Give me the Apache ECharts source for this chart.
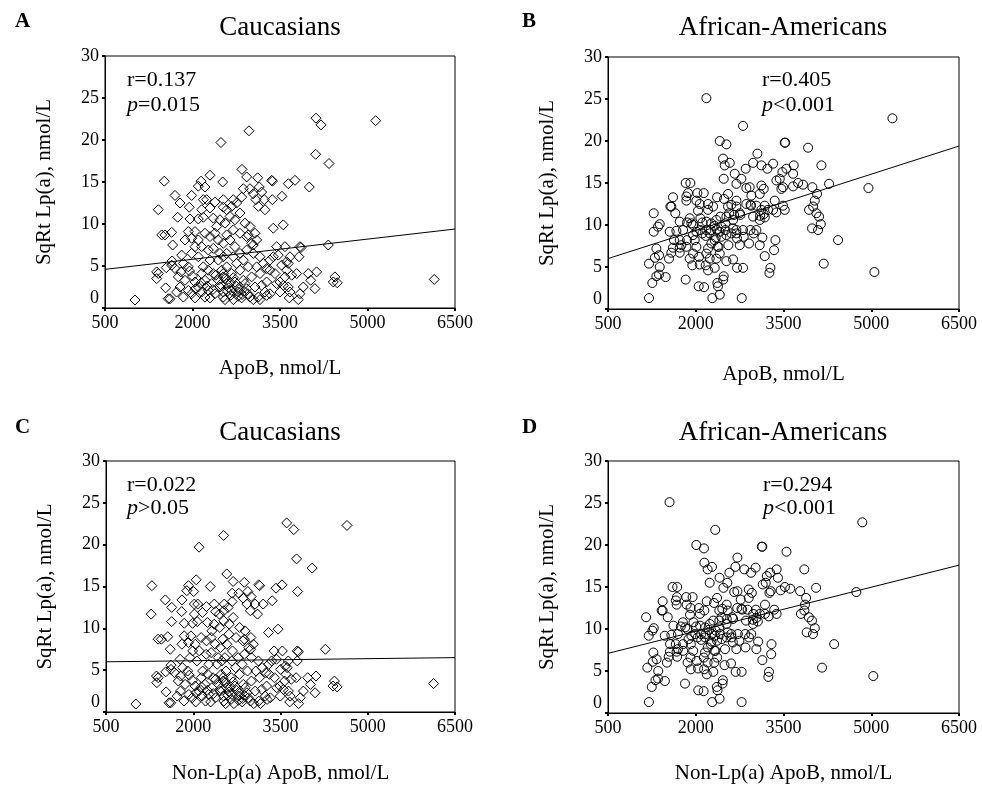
<!DOCTYPE html>
<html>
<head>
<meta charset="utf-8">
<script src="https://cdn.jsdelivr.net/npm/echarts@6/dist/echarts.min.js"></script>
<style>
html,body{margin:0;padding:0;background:#fff;}
#chart{width:982px;height:790px;}
</style>
</head>
<body>
<div id="chart"></div>
<script>
// ---------- data ----------
const xTicks = [500, 2000, 3500, 5000, 6500];
const yTicks = [0, 5, 10, 15, 20, 25, 30];
const panelLetters = ['A', 'B', 'C', 'D'];
const panelTitles = ['Caucasians', 'African-Americans', 'Caucasians', 'African-Americans'];
const xTitles = ['ApoB, nmol/L', 'ApoB, nmol/L', 'Non-Lp(a) ApoB, nmol/L', 'Non-Lp(a) ApoB, nmol/L'];
const yTitle = 'SqRt Lp(a), nmol/L';
const rValues = ['r=0.137', 'r=0.405', 'r=0.022', 'r=0.294'];
const pValues = ['=0.015', '<0.001', '>0.05', '<0.001'];

// regression lines [x, y] endpoints
const fitA = [[500, 4.6], [6500, 9.4]];
const fitB = [[500, 6.0], [6500, 19.4]];
const fitC = [[500, 6.0], [6500, 6.5]];
const fitD = [[500, 7.1], [6500, 17.6]];

// Panel A: Caucasians, ApoB vs SqRt Lp(a)
const pointsA = [
[2488,19.7],[1517,15.1],[2300,15.8],[2146,15.1],[2100,14.5],[2214,14.4],[2517,15.0],[1700,13.4],[1414,11.7],[1786,12.5],[1945,12.0],[1986,13.4],[2185,12.9],[2243,12.9],[2157,11.7],[2300,11.9],[2385,12.6],[2528,12.0],[1746,10.8],[1957,10.6],[2100,10.6],[2185,10.8],[2357,10.7],[2414,9.7],[2471,10.5],[1472,8.7],[1528,8.7],[1643,9.0],[1660,7.5],[1814,6.3],[1928,9.1],[2043,9.1],[1986,8.3],[1871,8.1],[2100,8.1],[2214,8.9],[2300,8.5],[2385,8.9],[2443,8.1],[2528,7.7],
[2043,7.3],[2157,7.3],[2271,6.9],[2357,7.1],[2471,6.5],[1986,6.5],[2100,6.1],[2300,5.7],[2443,5.7],[2528,6.1],
[1386,4.3],[1414,4.1],[1386,3.5],[1540,2.4],[1614,1.1],[1585,1.1],[1014,0.95],
[1643,5.1],[1700,4.7],[1843,5.3],[1928,4.9],[1757,3.7],[1871,3.3],[1786,2.5],[1928,2.1],[1728,1.9],[1843,1.3],[1986,1.7],[2043,1.2],[2100,2.5],[2043,3.1],[2157,4.1],[2185,4.9],[2271,4.5],[2357,4.1],[2214,3.3],[2328,2.9],[2271,2.1],[2157,1.9],[2214,1.3],[2300,1.2],[2385,1.7],[2471,2.5],[2443,3.3],[2528,3.7],[2500,4.5],[2528,1.3],
[2643,8.1],[2728,7.3],[2586,6.5],[2700,6.1],[2814,6.5],[2928,6.9],[3014,7.7],[3100,8.1],[3042,6.5],[3157,6.1],[2871,5.7],[2757,5.3],[2586,4.9],[2528,4.1],[2671,4.1],[2814,4.5],[2957,4.9],[3100,4.9],[3214,5.3],[3328,5.7],[3385,6.1],[3271,4.7],[3157,4.1],[3014,3.7],[2871,3.3],[2728,3.1],[2586,2.9],[2528,1.9],[2671,2.1],[2785,1.9],[2928,2.3],[3071,2.5],[3185,2.7],[3528,5.1],[3614,5.5],[3671,6.1],[3500,3.1],[3271,1.5],[3128,1.3],[2985,1.3],[2843,1.2],[2700,1.0],[2557,1.0],[3557,2.7],[3642,2.5],[3157,1.0],[3042,1.0],
[2600,2.0],[2650,1.5],[2750,2.6],[2800,2.2],[2850,1.6],[2900,2.9],[2700,3.6],[2650,3.0],[2620,2.4],[2780,1.4],[2880,2.0],[2950,1.7],[2560,3.5],[2480,2.8],[2400,3.9],[2350,2.2],[2250,2.6],[2150,3.0],[2050,2.3],[2000,3.8],[1950,4.4],[1800,4.3],[1650,5.6],[1550,4.8],
[2586,11.7],[2643,10.9],[2557,10.1],[2728,10.5],[2814,11.3],[2900,10.1],[2700,9.3],[2814,8.9],[2928,8.5],[2586,8.7],[2843,13.2],[3042,13.6],[3128,12.1],[2528,12.9],
[4117,22.6],[4203,21.8],[2968,21.1],[4111,18.3],[4340,17.2],[2848,16.5],[2929,15.6],[3117,15.5],[3357,15.2],[3370,15.1],[3642,14.8],[3757,15.2],[4002,14.4],[2871,14.2],[2985,14.2],[3145,14.4],[3186,13.8],[3088,12.9],[3230,12.9],[3368,12.9],[3534,13.3],[2699,12.9],[2757,12.5],[2671,12.1],[3242,11.7],[3385,9.5],[3556,9.9],[2985,9.7],[3071,8.9],[2956,8.7],[3042,7.5],[3443,7.3],[3585,7.3],[3842,7.3],[3860,7.2],[4328,7.5],[3825,6.1],[3471,6.3],[3642,5.3],[3614,4.5],[3700,3.9],[3585,3.7],[3786,4.1],[3328,4.5],[3414,4.1],[3443,2.9],[3271,3.1],[3500,1.9],[3328,1.7],[3242,1.9],[3985,4.1],[4128,4.3],[4026,3.3],[4099,2.3],[3899,2.5],[3842,1.7],[3671,1.9],[3659,1.2],[3813,1.0],[4442,3.7],[4482,3.0],[4413,3.1],[5140,22.3],[6144,3.4]
];

// Panel B: African-Americans, ApoB vs SqRt Lp(a)
const pointsB = [
[2182,25.1],[2808,21.8],[5362,22.7],[2410,20.0],[2524,19.6],[3521,19.8],[3530,19.8],[3920,19.2],[3054,18.5],[2467,17.9],[2581,17.4],[2495,17.1],[2980,17.4],[3122,17.1],[3322,17.3],[3225,16.7],[2854,16.7],[2666,16.1],[3481,16.3],[3550,16.7],[3675,17.1],[4148,17.1],[3664,16.1],[3436,15.5],[2780,15.5],[2478,15.5],[2695,14.9],[2922,14.5],[3122,14.7],[3162,14.3],[3492,14.5],[3749,15.0],[3664,14.6],[3834,14.8],[3994,14.5],[4279,14.9],[4952,14.4],[4074,13.7],[4034,12.9],[4006,12.2],[3937,11.8],[4063,11.4],[4108,11.0],[4137,10.1],[3988,9.6],[4091,9.4],[4433,8.2],[4188,5.4],[5054,4.4],
[2951,13.5],[3094,13.7],[2936,12.4],[2945,12.3],[3350,12.9],[3322,11.8],[3379,11.5],[3492,12.3],[3521,11.8],[3179,12.3],[3122,11.8],[3236,11.8],[3094,10.6],[3100,11.1],[2752,11.4],[2695,12.2],[2552,12.2],[2695,12.9],[2552,13.7],[2484,13.1],[2364,13.3],[2296,12.2],[2210,12.5],[2210,11.8],[2068,12.5],[2028,13.8],[2136,13.8],[2011,12.9],[1868,13.8],[1840,13.4],[1908,15.0],[1828,15.0],[1611,13.3],[1566,12.2],[1651,11.4],[1726,10.4],[1897,10.8],[1925,10.2],[1840,12.9],[2039,11.7],[2079,10.8],[2113,10.3],[2182,10.4],[2267,10.2],[2324,9.9],[2256,9.4],[2364,9.4],[2438,9.8],[2507,10.2],[2524,11.0],[2570,11.4],[2638,10.6],[2638,9.6],[2695,9.4],[2763,11.2],[2808,9.4],[2820,8.6],[2934,9.4],[3037,9.4],[3139,8.5],[3094,7.6],[3179,6.3],[3339,7.0],[3362,8.2],[3276,4.9],[3259,4.3],[2911,7.8],[2752,7.6],[2706,8.4],[2558,7.6],[2524,5.7],[2638,5.9],[2706,4.9],[2808,4.9],[2786,1.3],[2410,9.2],[2341,8.5],[2375,7.4],[2390,7.4],[2267,7.8],[2210,7.2],[2170,8.7],[2182,6.6],[2239,6.0],[2353,6.0],[2324,4.9],[2210,4.6],[2170,5.2],[2068,5.3],[2056,6.2],[2011,7.4],[1982,8.2],[1954,6.6],[1942,5.2],[1897,6.0],[1954,8.8],[1840,7.4],[1851,8.2],[1754,7.6],[1726,6.7],[1669,9.3],[1726,8.2],[1828,3.5],[2050,2.7],[2142,2.6],[2284,1.3],[2410,1.7],[2370,3.1],[2380,2.7],[2478,3.9],[2470,3.5],[2410,6.6],[2438,8.6],
[1201,1.3],[1258,3.1],[1201,5.4],[1281,9.2],[1281,11.4],[1384,10.1],[1355,9.8],[1327,7.2],[1301,6.1],[1372,6.4],[1384,5.0],[1372,4.1],[1327,3.9],[1486,3.8],[1543,6.0],[1555,9.2],[1583,12.2],[1611,7.3],[1628,8.2],[1583,6.7],[1726,7.3],
[2324,8.2],[2524,8.8],[2609,9.0],[2507,9.4],[2353,10.6],[2421,11.0],[2609,12.4],[2655,11.2],[2695,9.0],[2865,12.5],[2980,11.0],[2991,9.0],[3162,11.3],[3180,10.9],[3037,12.3],[3379,15.3],[3464,14.3],[2865,14.4],[1954,10.0],[2011,9.2],[2079,9.4],[2113,9.0],[2182,9.4],[2239,9.0],[1783,9.4],[1851,10.3]
];

// Panel C: Caucasians, Non-Lp(a) ApoB vs SqRt Lp(a)
const pointsC = [
[2100,19.7],[1289,15.1],[2050,15.8],[1918,15.1],[1890,14.5],[2007,14.4],[2292,15.0],[1520,13.4],[1277,11.7],[1630,12.5],[1801,12.0],[1806,13.4],[2019,12.9],[2077,12.9],[2020,11.7],[2158,11.9],[2226,12.6],[2384,12.0],[1629,10.8],[1845,10.6],[1988,10.6],[2068,10.8],[2243,10.7],[2320,9.7],[2361,10.5],[1396,8.7],[1452,8.7],[1562,9.0],[1604,7.5],[1774,6.3],[1845,9.1],[1960,9.1],[1917,8.3],[1805,8.1],[2034,8.1],[2135,8.9],[2228,8.5],[2306,8.9],[2377,8.1],[2469,7.7],
[1990,7.3],[2104,7.3],[2223,6.9],[2307,7.1],[2429,6.5],[1944,6.5],[2063,6.1],[2268,5.7],[2411,5.7],[2491,6.1],
[1368,4.3],[1397,4.1],[1374,3.5],[1534,2.4],[1613,1.1],[1584,1.1],[1013,0.95],
[1617,5.1],[1678,4.7],[1815,5.3],[1904,4.9],[1743,3.7],[1860,3.3],[1780,2.5],[1924,2.1],[1724,1.9],[1841,1.3],[1983,1.7],[2042,1.2],[2094,2.5],[2033,3.1],[2140,4.1],[2161,4.9],[2251,4.5],[2340,4.1],[2203,3.3],[2320,2.9],[2267,2.1],[2153,1.9],[2212,1.3],[2299,1.2],[2382,1.7],[2465,2.5],[2432,3.3],[2514,3.7],[2480,4.5],[2526,1.3],
[2577,8.1],[2675,7.3],[2544,6.5],[2663,6.1],[2772,6.5],[2880,6.9],[2955,7.7],[3034,8.1],[3000,6.5],[3120,6.1],[2839,5.7],[2729,5.3],[2562,4.9],[2511,4.1],[2654,4.1],[2794,4.5],[2933,4.9],[3076,4.9],[3186,5.3],[3296,5.7],[3348,6.1],[3249,4.7],[3140,4.1],[3000,3.7],[2860,3.3],[2718,3.1],[2578,2.9],[2524,1.9],[2667,2.1],[2781,1.9],[2923,2.3],[3065,2.5],[3178,2.7],[3502,5.1],[3584,5.5],[3634,6.1],[3490,3.1],[3269,1.5],[3126,1.3],[2983,1.3],[2842,1.2],[2699,1.0],[2556,1.0],[3550,2.7],[3636,2.5],[3156,1.0],[3041,1.0],
[2596,2.0],[2648,1.5],[2743,2.6],[2795,2.2],[2847,1.6],[2892,2.9],[2687,3.6],[2641,3.0],[2614,2.4],[2778,1.4],[2876,2.0],[2947,1.7],[2548,3.5],[2472,2.8],[2385,3.9],[2345,2.2],[2243,2.6],[2141,3.0],[2045,2.3],[1986,3.8],[1931,4.4],[1782,4.3],[1619,5.6],[1527,4.8],
[2449,11.7],[2524,10.9],[2455,10.1],[2618,10.5],[2686,11.3],[2798,10.1],[2614,9.3],[2735,8.9],[2856,8.5],[2510,8.7],[2669,13.2],[2857,13.6],[2982,12.1],[2362,12.9],
[3606,22.6],[3728,21.8],[2523,21.1],[3776,18.3],[4044,17.2],[2576,16.5],[2686,15.6],[2877,15.5],[3126,15.2],[3142,15.1],[3423,14.8],[3526,15.2],[3795,14.4],[2669,14.2],[2783,14.2],[2938,14.4],[2996,13.8],[2922,12.9],[3064,12.9],[3202,12.9],[3357,13.3],[2533,12.9],[2601,12.5],[2525,12.1],[3105,11.7],[3295,9.5],[3458,9.9],[2891,9.7],[2992,8.9],[2880,8.7],[2986,7.5],[3390,7.3],[3532,7.3],[3789,7.3],[3808,7.2],[4272,7.5],[3788,6.1],[3431,6.3],[3614,5.3],[3594,4.5],[3685,3.9],[3571,3.7],[3769,4.1],[3308,4.5],[3397,4.1],[3435,2.9],[3261,3.1],[3496,1.9],[3325,1.7],[3238,1.9],[3968,4.1],[4110,4.3],[4015,3.3],[4094,2.3],[3893,2.5],[3839,1.7],[3667,1.9],[3658,1.2],[3812,1.0],[4428,3.7],[4473,3.0],[4403,3.1],[4643,22.3],[6132,3.4]
];

// Panel D: African-Americans, Non-Lp(a) ApoB vs SqRt Lp(a)
const pointsD = [
[1552,25.1],[2333,21.8],[4847,22.7],[2010,20.0],[2140,19.6],[3129,19.8],[3138,19.8],[3551,19.2],[2712,18.5],[2147,17.9],[2278,17.4],[2203,17.1],[2677,17.4],[2830,17.1],[3023,17.3],[2946,16.7],[2575,16.7],[2407,16.1],[3215,16.3],[3271,16.7],[3383,17.1],[3856,17.1],[3405,16.1],[3196,15.5],[2540,15.5],[2238,15.5],[2473,14.9],[2712,14.5],[2906,14.7],[2958,14.3],[3282,14.5],[3524,15.0],[3451,14.6],[3615,14.8],[3784,14.5],[4057,14.9],[4745,14.4],[3886,13.7],[3868,12.9],[3857,12.2],[3798,11.8],[3933,11.4],[3987,11.0],[4035,10.1],[3896,9.6],[4003,9.4],[4366,8.2],[4159,5.4],[5035,4.4],
[2769,13.5],[2906,13.7],[2782,12.4],[2794,12.3],[3184,12.9],[3183,11.8],[3247,11.5],[3341,12.3],[3382,11.8],[3028,12.3],[2983,11.8],[3097,11.8],[2982,10.6],[2977,11.1],[2622,11.4],[2546,12.2],[2403,12.2],[2529,12.9],[2364,13.7],[2312,13.1],[2187,13.3],[2147,12.2],[2054,12.5],[2071,11.8],[1912,12.5],[1838,13.8],[1946,13.8],[1845,12.9],[1678,13.8],[1660,13.4],[1683,15.0],[1603,15.0],[1434,13.3],[1417,12.2],[1521,11.4],[1618,10.4],[1780,10.8],[1821,10.2],[1674,12.9],[1902,11.7],[1962,10.8],[2007,10.3],[2074,10.4],[2163,10.2],[2226,9.9],[2168,9.4],[2276,9.4],[2342,9.8],[2403,10.2],[2403,11.0],[2440,11.4],[2526,10.6],[2546,9.6],[2607,9.4],[2638,11.2],[2720,9.4],[2746,8.6],[2846,9.4],[2949,9.4],[3067,8.5],[3036,7.6],[3139,6.3],[3290,7.0],[3295,8.2],[3252,4.9],[3241,4.3],[2850,7.8],[2694,7.6],[2635,8.4],[2500,7.6],[2492,5.7],[2603,5.9],[2682,4.9],[2784,4.9],[2784,1.3],[2325,9.2],[2269,8.5],[2320,7.4],[2335,7.4],[2206,7.8],[2158,7.2],[2094,8.7],[2138,6.6],[2203,6.0],[2317,6.0],[2300,4.9],[2189,4.6],[2143,5.2],[2040,5.3],[2018,6.2],[1956,7.4],[1915,8.2],[1910,6.6],[1915,5.2],[1861,6.0],[1877,8.8],[1785,7.4],[1784,8.2],[1696,7.6],[1681,6.7],[1583,9.3],[1659,8.2],[1816,3.5],[2043,2.7],[2135,2.6],[2282,1.3],[2407,1.7],[2360,3.1],[2373,2.7],[2463,3.9],[2458,3.5],[2366,6.6],[2364,8.6],
[1199,1.3],[1248,3.1],[1172,5.4],[1196,9.2],[1151,11.4],[1282,10.1],[1259,9.8],[1275,7.2],[1264,6.1],[1331,6.4],[1359,5.0],[1355,4.1],[1312,3.9],[1472,3.8],[1507,6.0],[1470,9.2],[1434,12.2],[1558,7.3],[1561,8.2],[1538,6.7],[1673,7.3],
[2257,8.2],[2447,8.8],[2528,9.0],[2419,9.4],[2241,10.6],[2300,11.0],[2455,12.4],[2530,11.2],[2614,9.0],[2709,12.5],[2859,11.0],[2910,9.0],[3034,11.3],[3061,10.9],[2886,12.3],[3145,15.3],[3260,14.3],[2658,14.4],[1854,10.0],[1926,9.2],[1991,9.4],[2032,9.0],[2094,9.4],[2158,9.0],[1695,9.4],[1745,10.3]
];

// ---------- chart ----------
const FONT = '"Liberation Serif", "Times New Roman", serif';
const grids = [
  {left: 105, top: 56, width: 350, height: 252},
  {left: 608, top: 57, width: 351, height: 252},
  {left: 106, top: 461, width: 349, height: 251},
  {left: 608, top: 461, width: 351, height: 252}
];
const xNameGaps = [50, 55, 51, 50];
const pointSets = [pointsA, pointsB, pointsC, pointsD];
const fits = [fitA, fitB, fitC, fitD];
const symbols = ['diamond', 'circle', 'diamond', 'circle'];
const symbolSizes = [[10, 10], 9, [10, 10], 9];

const option = {
  animation: false,
  backgroundColor: '#fff',
  grid: grids.map(g => Object.assign({show: true, borderColor: '#000', borderWidth: 1, backgroundColor: 'transparent'}, g)),
  xAxis: grids.map((g, i) => ({
    gridIndex: i, type: 'value', min: xTicks[0], max: xTicks[xTicks.length - 1], interval: xTicks[1] - xTicks[0],
    name: xTitles[i], nameLocation: 'middle', nameGap: xNameGaps[i],
    nameTextStyle: {fontFamily: FONT, fontSize: 21, color: '#000'},
    axisLine: {show: true, onZero: false, lineStyle: {color: '#000', width: 1}},
    axisTick: {show: true, length: 3, lineStyle: {color: '#000', width: 2}},
    axisLabel: {fontFamily: FONT, fontSize: 18, color: '#000', margin: 6, formatter: v => String(v)},
    splitLine: {show: false}
  })),
  yAxis: grids.map((g, i) => ({
    gridIndex: i, type: 'value', min: yTicks[0], max: yTicks[yTicks.length - 1], interval: yTicks[1] - yTicks[0],
    name: yTitle, nameLocation: 'middle', nameGap: 50, nameRotate: 90,
    nameTextStyle: {fontFamily: FONT, fontSize: 21, color: '#000'},
    axisLine: {show: true, onZero: false, lineStyle: {color: '#000', width: 1}},
    axisTick: {show: true, length: 3, lineStyle: {color: '#000', width: 2}},
    axisLabel: {
      fontFamily: FONT, fontSize: 18, color: '#000', margin: 6,
      formatter: v => v === 0 ? '{z|0}' : String(v),
      rich: {z: {fontFamily: FONT, fontSize: 18, color: '#000', padding: [0, 0, 20, 0]}}
    },
    splitLine: {show: false}
  })),
  series: [].concat(
    pointSets.map((pts, i) => ({
      type: 'scatter', xAxisIndex: i, yAxisIndex: i, data: pts,
      symbol: symbols[i], symbolSize: symbolSizes[i], silent: true,
      itemStyle: {color: 'rgba(0,0,0,0)', borderColor: '#000', borderWidth: 1, opacity: 1},
      z: 3
    })),
    fits.map((f, i) => ({
      type: 'line', xAxisIndex: i, yAxisIndex: i, data: f, symbol: 'none', silent: true,
      lineStyle: {color: '#000', width: 1}, z: 4
    }))
  ),
  graphic: []
};

const letterPos = [[15, 22], [522, 22], [15, 428], [522, 428]];
const titlePos = [[280, 28], [783, 28], [280, 433], [783, 433]];
const statPos = [[127, 80, 105], [762, 80, 105], [127, 485, 508], [763, 485, 508]];

panelLetters.forEach((L, i) => {
  option.graphic.push({type: 'text', left: letterPos[i][0], top: letterPos[i][1] - 11,
    style: {text: L, fill: '#000', font: 'bold 21px ' + FONT}});
  option.graphic.push({type: 'text', x: titlePos[i][0], y: titlePos[i][1],
    style: {text: panelTitles[i], fill: '#000', font: '27px ' + FONT, textAlign: 'center', textVerticalAlign: 'middle'}});
  option.graphic.push({type: 'text', x: statPos[i][0], y: statPos[i][1],
    style: {text: rValues[i], fill: '#000', font: '22px ' + FONT, textAlign: 'left', textVerticalAlign: 'middle'}});
  option.graphic.push({type: 'text', x: statPos[i][0], y: statPos[i][2],
    style: {text: '{i|p}{n|' + pValues[i] + '}', fill: '#000', font: '22px ' + FONT, textAlign: 'left', textVerticalAlign: 'middle',
      rich: {i: {fontFamily: FONT, fontSize: 22, fontStyle: 'italic', fill: '#000'}, n: {fontFamily: FONT, fontSize: 22, fill: '#000'}}}});
});

const chart = echarts.init(document.getElementById('chart'), null, {renderer: 'canvas'});
chart.setOption(option);
</script>
</body>
</html>
